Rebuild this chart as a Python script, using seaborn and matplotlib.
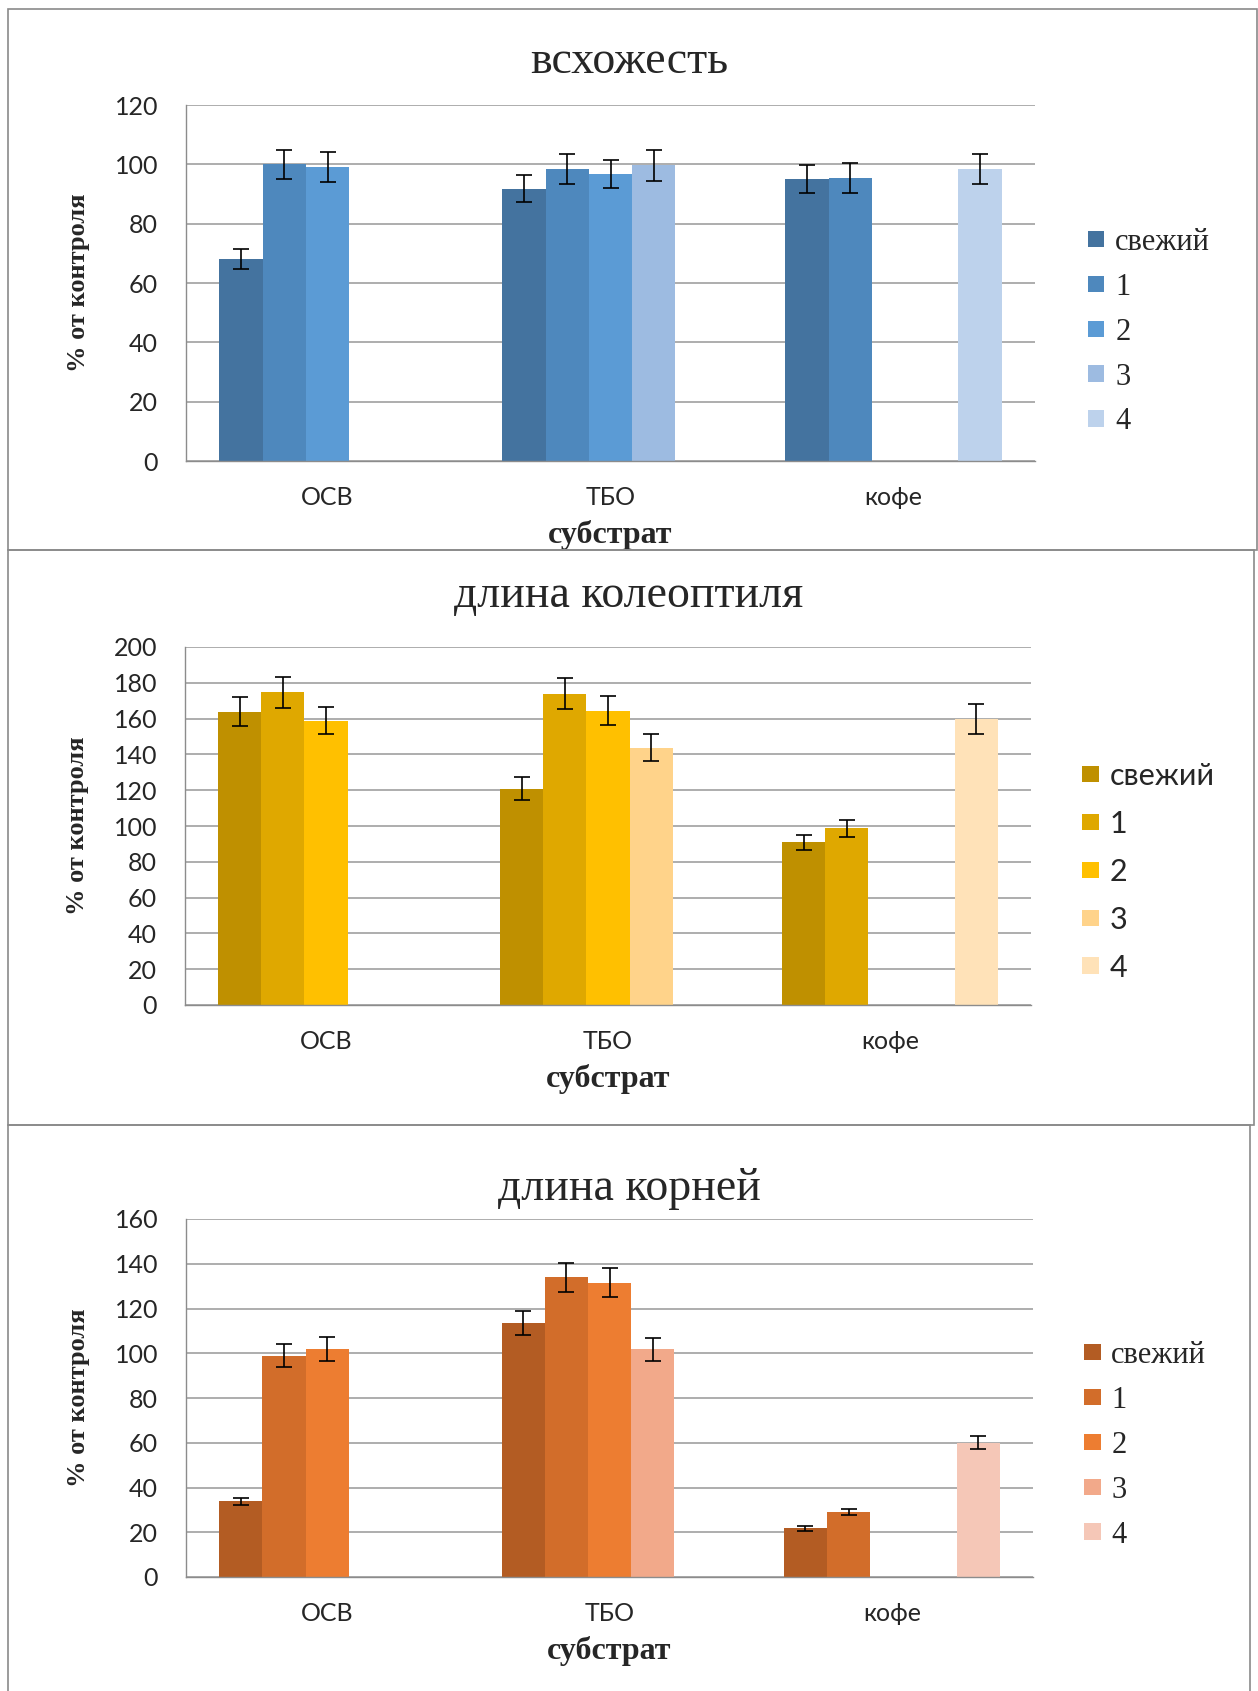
import numpy as np
import pandas as pd
import seaborn as sns
import matplotlib.pyplot as plt
from matplotlib.patches import Rectangle

categories = ['ОСВ', 'ТБО', 'кофе']
periods = ['свежий', '1', '2', '3', '4']

# всхожесть, values by substrate (свежий, 1, 2, 3, 4), None = no bar
germ_osv = [68.0, 100.0, 99.0, None, None]
germ_tbo = [91.8, 98.5, 96.6, 99.7, None]
germ_cof = [95.0, 95.5, None, None, 98.5]
germ_osv_err = [3.3, 4.9, 5.0, None, None]
germ_tbo_err = [4.5, 5.0, 4.7, 5.2, None]
germ_cof_err = [4.7, 5.0, None, None, 5.0]

# длина колеоптиля
coleo_osv = [163.9, 174.6, 158.9, None, None]
coleo_tbo = [120.9, 174.0, 164.5, 143.7, None]
coleo_cof = [90.8, 98.7, None, None, 159.8]
coleo_osv_err = [8.2, 8.5, 7.7, None, None]
coleo_tbo_err = [6.2, 8.6, 8.3, 7.5, None]
coleo_cof_err = [4.2, 4.7, None, None, 8.2]

# длина корней
root_osv = [33.8, 98.9, 101.9, None, None]
root_tbo = [113.7, 133.9, 131.6, 101.7, None]
root_cof = [21.8, 29.2, None, None, 60.1]
root_osv_err = [1.6, 5.2, 5.3, None, None]
root_tbo_err = [5.4, 6.5, 6.6, 5.0, None]
root_cof_err = [1.2, 1.4, None, None, 2.9]

blues = ['#44739F', '#4E88BD', '#5B9BD5', '#9DBBE1', '#BDD2EC']
yellows = ['#BF9000', '#DFA800', '#FFC000', '#FFD38A', '#FFE2B8']
oranges = ['#B35C23', '#D26D2A', '#ED7D31', '#F2A98A', '#F5C7B7']

W, H = 1258, 1691


def make_df(vals, errs):
    rows = []
    for cat, v_list, e_list in zip(categories, vals, errs):
        for p, v, e in zip(periods, v_list, e_list):
            if v is not None:
                rows.append({'substrate': cat, 'period': p, 'value': v, 'err': e})
    df = pd.DataFrame(rows)
    df['substrate'] = pd.Categorical(df['substrate'], categories=categories, ordered=True)
    return df


def fig_box(px):
    # px: left, top, right, bottom in pixels -> figure fraction rect
    l, t, r, b = px
    return [l / W, 1 - b / H, (r - l) / W, (b - t) / H]


sns.set_style('white')
plt.rcParams['font.family'] = ['Lato', 'DejaVu Sans']

fig = plt.figure(figsize=(W / 100, H / 100), dpi=100)

serif_leg = {'family': 'Liberation Serif', 'size': 22}
sans_leg = {'family': 'Lato', 'size': 22}

panels = [
    ('всхожесть', [germ_osv, germ_tbo, germ_cof], [germ_osv_err, germ_tbo_err, germ_cof_err],
     blues, 120, (186, 105, 1035, 461), 62, (8, 9, 1257, 550), (1.062, 0.362), serif_leg, 0.52),
    ('длина колеоптиля', [coleo_osv, coleo_tbo, coleo_cof], [coleo_osv_err, coleo_tbo_err, coleo_cof_err],
     yellows, 200, (185, 647, 1031, 1005), 596, (8, 550, 1254, 1125), (1.060, 0.372), sans_leg, 0.65),
    ('длина корней', [root_osv, root_tbo, root_cof], [root_osv_err, root_tbo_err, root_cof_err],
     oranges, 160, (186, 1219, 1033, 1577), 1189, (8, 1125, 1250, 1700), (1.060, 0.368), serif_leg, 0.52),
]

grid_c = '#A0A0A0'
for title, vals, errs, pal, ymax, ax_px, title_y, box_px, leg_xy, leg_font, leg_sp in panels:
    df = make_df(vals, errs)
    ax = fig.add_axes(fig_box(ax_px))
    sns.barplot(data=df, x='substrate', y='value', hue='period', order=categories,
                hue_order=periods, palette=pal, saturation=1, width=0.765,
                errorbar=None, linewidth=0, ax=ax)

    # error bars on top of the drawn bars
    for lvl, cont in zip(periods, ax.containers):
        sub = df[df['period'] == lvl].sort_values('substrate')
        xs = [b.get_x() + b.get_width() / 2 for b in cont]
        ys = [b.get_height() for b in cont]
        ax.errorbar(xs, ys, yerr=sub['err'].values, fmt='none', ecolor='black',
                    elinewidth=1.2, capsize=6, capthick=1.2, zorder=5)

    ax.set_ylim(0, ymax)
    ax.set_xlim(-0.5, 2.5)
    ax.set_yticks(np.arange(0, ymax + 1, 20))
    ax.yaxis.grid(True, color=grid_c, lw=1.2)
    ax.set_axisbelow(True)
    for s in ['top', 'right']:
        ax.spines[s].set_visible(False)
    for s in ['left', 'bottom']:
        ax.spines[s].set_color('#8C8C8C')
        ax.spines[s].set_linewidth(1.0)

    ax.set_xticks([-0.5, 0.5, 1.5, 2.5], minor=True)
    ax.tick_params(axis='x', which='major', length=0, pad=18, labelsize=18)
    ax.tick_params(axis='x', which='minor', length=7, color='#8C8C8C', width=1.0)
    ax.tick_params(axis='y', length=6, color='#8C8C8C', width=1.0, pad=14, labelsize=18)

    ax.set_xlabel('субстрат', family='Liberation Serif', fontweight='bold',
                  fontsize=23, labelpad=8)
    ax.set_ylabel('% от контроля', family='Liberation Serif', fontweight='bold',
                  fontsize=19, labelpad=18)

    leg = ax.legend(loc='center left', bbox_to_anchor=leg_xy, frameon=False,
                    prop=leg_font, handlelength=0.55, handleheight=0.45,
                    handletextpad=0.35, labelspacing=leg_sp,
                    borderpad=0, borderaxespad=0)

    fig.text(0.5, 1 - title_y / H, title, ha='center', va='center',
             family='Liberation Serif', fontsize=33)

    l, t, r, b = box_px
    fig.add_artist(Rectangle((l / W, 1 - b / H), (r - l) / W, (b - t) / H,
                             transform=fig.transFigure, fill=False,
                             ec='#8A8A8A', lw=1.2))

fig.savefig('out.png', dpi=100)
